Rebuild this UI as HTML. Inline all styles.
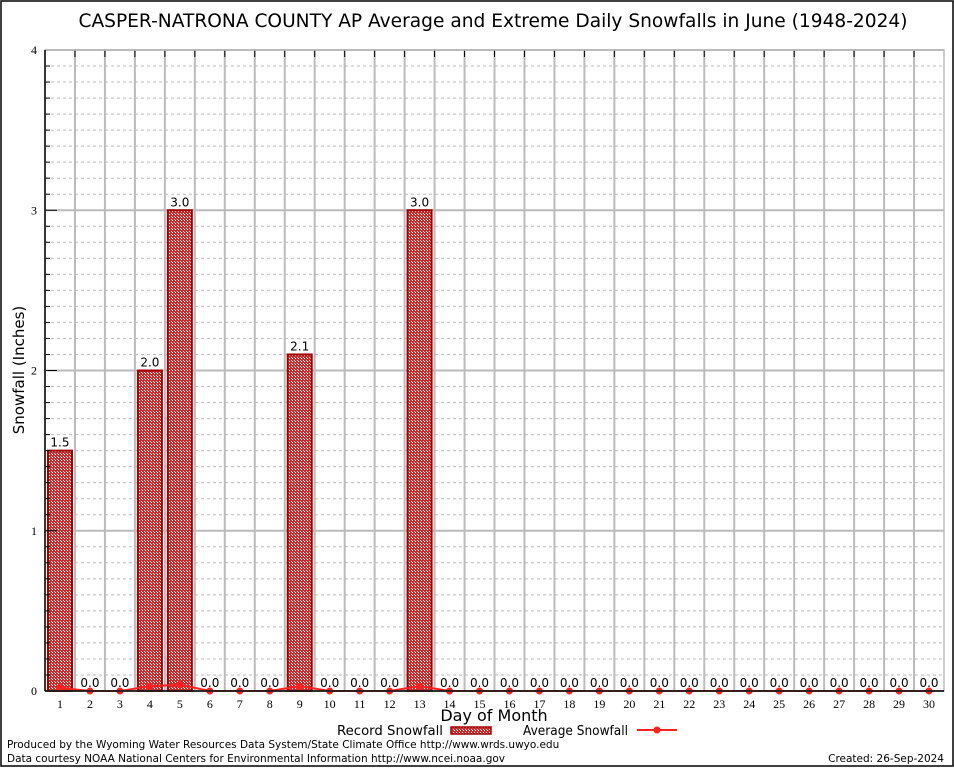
<!DOCTYPE html>
<html><head><meta charset="utf-8"><style>
body{margin:0;background:#fff;width:954px;height:768px;overflow:hidden}
svg{display:block;font-family:"DejaVu Sans","Liberation Sans",sans-serif}
</style></head><body>
<svg id="c" width="954" height="768" viewBox="0 0 954 768">
<defs><pattern id="hatch" width="3" height="3" patternUnits="userSpaceOnUse">
<rect width="3" height="3" fill="#c83030"/><rect x="1" y="1" width="1" height="1" fill="#fff"/><rect x="0" y="0" width="1" height="1" fill="#f0d0d0"/></pattern></defs>
<rect x="1" y="1" width="952" height="765" fill="none" stroke="#000" stroke-width="1.5"/>
<text x="493" y="27" font-size="18.6" text-anchor="middle">CASPER-NATRONA COUNTY AP Average and Extreme Daily Snowfalls in June (1948-2024)</text>
<g id="grid"></g><g id="bars"></g><g id="avg"></g><g id="axes"></g>
<text x="24" y="370" font-size="15" text-anchor="middle" transform="rotate(-90 24 370)">Snowfall (Inches)</text>
<text x="494" y="721" font-size="16" text-anchor="middle">Day of Month</text>
<g>
<text x="337" y="735" font-size="13" textLength="106" lengthAdjust="spacingAndGlyphs">Record Snowfall</text>
<rect x="451" y="727" width="40" height="7" fill="url(#hatch)" stroke="#a00000" stroke-width="1.5"/>
<text x="523" y="735" font-size="13" textLength="105" lengthAdjust="spacingAndGlyphs">Average Snowfall</text>
<line x1="637" y1="730" x2="677" y2="730" stroke="#ff2020" stroke-width="2"/>
<circle cx="657" cy="730" r="3.5" fill="#ff2020"/>
</g>
<text x="7" y="748" font-size="10.5">Produced by the Wyoming Water Resources Data System/State Climate Office http://www.wrds.uwyo.edu</text>
<text x="7" y="762" font-size="10.5">Data courtesy NOAA National Centers for Environmental Information http://www.ncei.noaa.gov</text>
<text x="944" y="762" font-size="10.5" text-anchor="end">Created: 26-Sep-2024</text>
</svg>
<script>
const days=[1,2,3,4,5,6,7,8,9,10,11,12,13,14,15,16,17,18,19,20,21,22,23,24,25,26,27,28,29,30];
const recordSnow=[1.5,0,0,2.0,3.0,0,0,0,2.1,0,0,0,3.0,0,0,0,0,0,0,0,0,0,0,0,0,0,0,0,0,0];
const avgSnow=[0.02,0,0,0.03,0.04,0,0,0,0.03,0,0,0,0.03,0,0,0,0,0,0,0,0,0,0,0,0,0,0,0,0,0];
const yTicks=[0,1,2,3,4];
const L=45,R=944,T=50,B=691,yMax=4;
const NS="http://www.w3.org/2000/svg";
const sx=d=>L+(d-0.5)*(R-L)/days.length;
const sy=v=>B-v/yMax*(B-T);
function mk(p,t,a){const e=document.createElementNS(NS,t);for(const k in a)e.setAttribute(k,a[k]);document.getElementById(p).appendChild(e);return e;}
for(let i=1;i<yMax*10;i++){if(i%10===0)continue;
 const l=mk('grid','line',{x1:L,x2:R,y1:sy(i/10),y2:sy(i/10),stroke:'#bbb','stroke-dasharray':'3,3'});
 
 const t=mk('axes','line',{x1:L,x2:L+5,y1:sy(i/10),y2:sy(i/10),stroke:'#000'});
 }
yTicks.forEach(v=>{
 const l=mk('grid','line',{x1:L,x2:R,y1:sy(v),y2:sy(v),stroke:'#bbb','stroke-width':2});
 
 const t=mk('axes','line',{x1:L,x2:L+12,y1:sy(v),y2:sy(v),stroke:'#000'});
 
 const tx=mk('axes','text',{x:37,y:sy(v)+4,'font-size':12,'text-anchor':'end','font-family':'Liberation Serif,serif'});
 tx.textContent=v;});
for(let i=1;i<days.length;i++){const x=L+i*(R-L)/days.length;
 const l=mk('grid','line',{x1:x,x2:x,y1:T,y2:B,stroke:'#bbb','stroke-width':2});
 
 const t=mk('axes','line',{x1:x,x2:x,y1:T,y2:T+7,stroke:'#000'});
 }
const fr=mk('axes','rect',{x:L,y:T,width:R-L,height:B-T,fill:'none',stroke:'#bbb','stroke-width':1.5});

const la=mk('axes','line',{x1:L,x2:L,y1:T,y2:B,stroke:'#000','stroke-width':1.5});

const ba=mk('axes','line',{x1:L,x2:R,y1:B,y2:B,stroke:'#000','stroke-width':1.5});

days.forEach((d,i)=>{const v=recordSnow[i],x=sx(d);
 if(v>0){const r=mk('bars','rect',{x:x-12,y:sy(v),width:24,height:B-sy(v),fill:'url(#hatch)',stroke:'#a00000','stroke-width':2});
  }
 const t=mk('bars','text',{x:x,y:sy(v)-4,'font-size':12,'text-anchor':'middle'});
 t.textContent=v.toFixed(1);
 const xl=mk('axes','text',{x:x,y:708,'font-size':12,'text-anchor':'middle','font-family':'Liberation Serif,serif'});
 xl.textContent=d;});
const pl=mk('avg','polyline',{points:days.map((d,i)=>sx(d)+','+sy(avgSnow[i])).join(' '),fill:'none',stroke:'#ff2020','stroke-width':2});

days.forEach((d,i)=>{const c=mk('avg','circle',{cx:sx(d),cy:sy(avgSnow[i]),r:3.5,fill:'#ff2020'});
 });
</script>
</body></html>
